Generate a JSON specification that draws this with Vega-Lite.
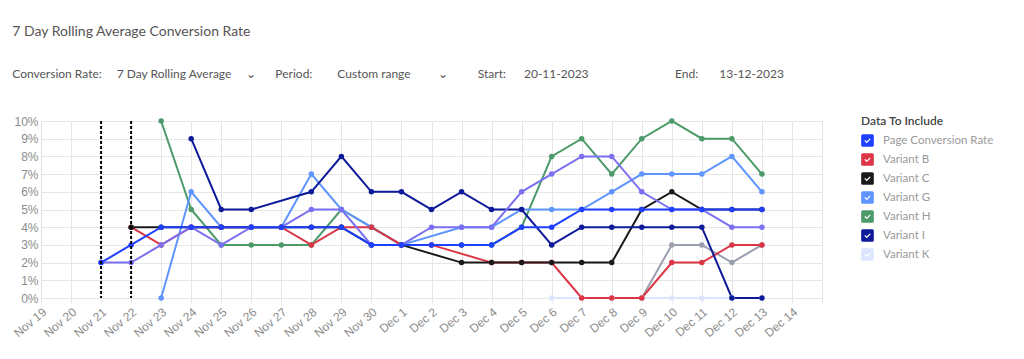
{
  "$schema": "https://vega.github.io/schema/vega-lite/v6.json",
  "width": 781,
  "height": 177,
  "autosize": "none",
  "padding": {"left": 41, "top": 121, "right": 202, "bottom": 61},
  "background": "white",
  "title": {
    "text": "7 Day Rolling Average Conversion Rate",
    "subtitle": "Conversion Rate:\u2003\u20027 Day Rolling Average\u2003\u2002\u2304\u2003\u2002\u2004Period:\u2003\u2003\u2004\u2005Custom range\u2003\u2003\u2002\u00a0\u2304\u2003\u2003\u2002\u00a0\u00a0Start:\u2003\u200320-11-2023\u2003\u2003\u2003\u2003\u2003\u2003\u2003\u2003\u2002\u2009\u2004\u2005End:\u2003\u2002\u200213-12-2023",
    "anchor": "start",
    "dx": 1,
    "offset": 35,
    "font": "Lato",
    "fontSize": 14,
    "fontWeight": "normal",
    "color": "#555555",
    "subtitleFont": "Lato",
    "subtitleFontSize": 12,
    "subtitleColor": "#555555",
    "subtitlePadding": 30
  },
  "datasets": {
    "rates": [
      {"series": "Variant L", "date": "2023-12-09", "rate": 0},
      {"series": "Variant L", "date": "2023-12-10", "rate": 3},
      {"series": "Variant L", "date": "2023-12-11", "rate": 3},
      {"series": "Variant L", "date": "2023-12-12", "rate": 2},
      {"series": "Variant L", "date": "2023-12-13", "rate": 3},
      {"series": "Variant K", "date": "2023-12-06", "rate": 0},
      {"series": "Variant K", "date": "2023-12-07", "rate": 0},
      {"series": "Variant K", "date": "2023-12-08", "rate": 0},
      {"series": "Variant K", "date": "2023-12-09", "rate": 0},
      {"series": "Variant K", "date": "2023-12-10", "rate": 0},
      {"series": "Variant K", "date": "2023-12-11", "rate": 0},
      {"series": "Variant K", "date": "2023-12-12", "rate": 0},
      {"series": "Variant K", "date": "2023-12-13", "rate": 0},
      {"series": "Variant H", "date": "2023-11-23", "rate": 10},
      {"series": "Variant H", "date": "2023-11-24", "rate": 5},
      {"series": "Variant H", "date": "2023-11-25", "rate": 3},
      {"series": "Variant H", "date": "2023-11-26", "rate": 3},
      {"series": "Variant H", "date": "2023-11-27", "rate": 3},
      {"series": "Variant H", "date": "2023-11-28", "rate": 3},
      {"series": "Variant H", "date": "2023-11-29", "rate": 5},
      {"series": "Variant H", "date": "2023-11-30", "rate": 4},
      {"series": "Variant H", "date": "2023-12-01", "rate": 3},
      {"series": "Variant H", "date": "2023-12-02", "rate": 3},
      {"series": "Variant H", "date": "2023-12-03", "rate": 3},
      {"series": "Variant H", "date": "2023-12-04", "rate": 3},
      {"series": "Variant H", "date": "2023-12-05", "rate": 4},
      {"series": "Variant H", "date": "2023-12-06", "rate": 8},
      {"series": "Variant H", "date": "2023-12-07", "rate": 9},
      {"series": "Variant H", "date": "2023-12-08", "rate": 7},
      {"series": "Variant H", "date": "2023-12-09", "rate": 9},
      {"series": "Variant H", "date": "2023-12-10", "rate": 10},
      {"series": "Variant H", "date": "2023-12-11", "rate": 9},
      {"series": "Variant H", "date": "2023-12-12", "rate": 9},
      {"series": "Variant H", "date": "2023-12-13", "rate": 7},
      {"series": "Variant G", "date": "2023-11-23", "rate": 0},
      {"series": "Variant G", "date": "2023-11-24", "rate": 6},
      {"series": "Variant G", "date": "2023-11-25", "rate": 4},
      {"series": "Variant G", "date": "2023-11-26", "rate": 4},
      {"series": "Variant G", "date": "2023-11-27", "rate": 4},
      {"series": "Variant G", "date": "2023-11-28", "rate": 7},
      {"series": "Variant G", "date": "2023-11-29", "rate": 5},
      {"series": "Variant G", "date": "2023-11-30", "rate": 4},
      {"series": "Variant G", "date": "2023-12-01", "rate": 3},
      {"series": "Variant G", "date": "2023-12-03", "rate": 4},
      {"series": "Variant G", "date": "2023-12-04", "rate": 4},
      {"series": "Variant G", "date": "2023-12-05", "rate": 5},
      {"series": "Variant G", "date": "2023-12-06", "rate": 5},
      {"series": "Variant G", "date": "2023-12-07", "rate": 5},
      {"series": "Variant G", "date": "2023-12-08", "rate": 6},
      {"series": "Variant G", "date": "2023-12-09", "rate": 7},
      {"series": "Variant G", "date": "2023-12-10", "rate": 7},
      {"series": "Variant G", "date": "2023-12-11", "rate": 7},
      {"series": "Variant G", "date": "2023-12-12", "rate": 8},
      {"series": "Variant G", "date": "2023-12-13", "rate": 6},
      {"series": "Variant B", "date": "2023-11-22", "rate": 4},
      {"series": "Variant B", "date": "2023-11-23", "rate": 3},
      {"series": "Variant B", "date": "2023-11-24", "rate": 4},
      {"series": "Variant B", "date": "2023-11-25", "rate": 4},
      {"series": "Variant B", "date": "2023-11-26", "rate": 4},
      {"series": "Variant B", "date": "2023-11-27", "rate": 4},
      {"series": "Variant B", "date": "2023-11-28", "rate": 3},
      {"series": "Variant B", "date": "2023-11-29", "rate": 4},
      {"series": "Variant B", "date": "2023-11-30", "rate": 4},
      {"series": "Variant B", "date": "2023-12-01", "rate": 3},
      {"series": "Variant B", "date": "2023-12-02", "rate": 3},
      {"series": "Variant B", "date": "2023-12-04", "rate": 2},
      {"series": "Variant B", "date": "2023-12-05", "rate": 2},
      {"series": "Variant B", "date": "2023-12-06", "rate": 2},
      {"series": "Variant B", "date": "2023-12-07", "rate": 0},
      {"series": "Variant B", "date": "2023-12-08", "rate": 0},
      {"series": "Variant B", "date": "2023-12-09", "rate": 0},
      {"series": "Variant B", "date": "2023-12-10", "rate": 2},
      {"series": "Variant B", "date": "2023-12-11", "rate": 2},
      {"series": "Variant B", "date": "2023-12-12", "rate": 3},
      {"series": "Variant B", "date": "2023-12-13", "rate": 3},
      {"series": "Variant C", "date": "2023-11-22", "rate": 4},
      {"series": "Variant C", "date": "2023-11-23", "rate": 4},
      {"series": "Variant C", "date": "2023-11-24", "rate": 4},
      {"series": "Variant C", "date": "2023-11-25", "rate": 4},
      {"series": "Variant C", "date": "2023-11-26", "rate": 4},
      {"series": "Variant C", "date": "2023-11-27", "rate": 4},
      {"series": "Variant C", "date": "2023-11-28", "rate": 4},
      {"series": "Variant C", "date": "2023-11-29", "rate": 4},
      {"series": "Variant C", "date": "2023-11-30", "rate": 3},
      {"series": "Variant C", "date": "2023-12-01", "rate": 3},
      {"series": "Variant C", "date": "2023-12-03", "rate": 2},
      {"series": "Variant C", "date": "2023-12-04", "rate": 2},
      {"series": "Variant C", "date": "2023-12-05", "rate": 2},
      {"series": "Variant C", "date": "2023-12-06", "rate": 2},
      {"series": "Variant C", "date": "2023-12-07", "rate": 2},
      {"series": "Variant C", "date": "2023-12-08", "rate": 2},
      {"series": "Variant C", "date": "2023-12-09", "rate": 5},
      {"series": "Variant C", "date": "2023-12-10", "rate": 6},
      {"series": "Variant C", "date": "2023-12-11", "rate": 5},
      {"series": "Variant C", "date": "2023-12-12", "rate": 5},
      {"series": "Variant C", "date": "2023-12-13", "rate": 5},
      {"series": "Variant I", "date": "2023-11-24", "rate": 9},
      {"series": "Variant I", "date": "2023-11-25", "rate": 5},
      {"series": "Variant I", "date": "2023-11-26", "rate": 5},
      {"series": "Variant I", "date": "2023-11-28", "rate": 6},
      {"series": "Variant I", "date": "2023-11-29", "rate": 8},
      {"series": "Variant I", "date": "2023-11-30", "rate": 6},
      {"series": "Variant I", "date": "2023-12-01", "rate": 6},
      {"series": "Variant I", "date": "2023-12-02", "rate": 5},
      {"series": "Variant I", "date": "2023-12-03", "rate": 6},
      {"series": "Variant I", "date": "2023-12-04", "rate": 5},
      {"series": "Variant I", "date": "2023-12-05", "rate": 5},
      {"series": "Variant I", "date": "2023-12-06", "rate": 3},
      {"series": "Variant I", "date": "2023-12-07", "rate": 4},
      {"series": "Variant I", "date": "2023-12-08", "rate": 4},
      {"series": "Variant I", "date": "2023-12-09", "rate": 4},
      {"series": "Variant I", "date": "2023-12-10", "rate": 4},
      {"series": "Variant I", "date": "2023-12-11", "rate": 4},
      {"series": "Variant I", "date": "2023-12-12", "rate": 0},
      {"series": "Variant I", "date": "2023-12-13", "rate": 0},
      {"series": "Variant M", "date": "2023-11-21", "rate": 2},
      {"series": "Variant M", "date": "2023-11-22", "rate": 2},
      {"series": "Variant M", "date": "2023-11-23", "rate": 3},
      {"series": "Variant M", "date": "2023-11-24", "rate": 4},
      {"series": "Variant M", "date": "2023-11-25", "rate": 3},
      {"series": "Variant M", "date": "2023-11-26", "rate": 4},
      {"series": "Variant M", "date": "2023-11-27", "rate": 4},
      {"series": "Variant M", "date": "2023-11-28", "rate": 5},
      {"series": "Variant M", "date": "2023-11-29", "rate": 5},
      {"series": "Variant M", "date": "2023-11-30", "rate": 3},
      {"series": "Variant M", "date": "2023-12-01", "rate": 3},
      {"series": "Variant M", "date": "2023-12-02", "rate": 4},
      {"series": "Variant M", "date": "2023-12-03", "rate": 4},
      {"series": "Variant M", "date": "2023-12-04", "rate": 4},
      {"series": "Variant M", "date": "2023-12-05", "rate": 6},
      {"series": "Variant M", "date": "2023-12-06", "rate": 7},
      {"series": "Variant M", "date": "2023-12-07", "rate": 8},
      {"series": "Variant M", "date": "2023-12-08", "rate": 8},
      {"series": "Variant M", "date": "2023-12-09", "rate": 6},
      {"series": "Variant M", "date": "2023-12-10", "rate": 5},
      {"series": "Variant M", "date": "2023-12-11", "rate": 5},
      {"series": "Variant M", "date": "2023-12-12", "rate": 4},
      {"series": "Variant M", "date": "2023-12-13", "rate": 4},
      {"series": "Page Conversion Rate", "date": "2023-11-21", "rate": 2},
      {"series": "Page Conversion Rate", "date": "2023-11-22", "rate": 3},
      {"series": "Page Conversion Rate", "date": "2023-11-23", "rate": 4},
      {"series": "Page Conversion Rate", "date": "2023-11-24", "rate": 4},
      {"series": "Page Conversion Rate", "date": "2023-11-25", "rate": 4},
      {"series": "Page Conversion Rate", "date": "2023-11-26", "rate": 4},
      {"series": "Page Conversion Rate", "date": "2023-11-27", "rate": 4},
      {"series": "Page Conversion Rate", "date": "2023-11-28", "rate": 4},
      {"series": "Page Conversion Rate", "date": "2023-11-29", "rate": 4},
      {"series": "Page Conversion Rate", "date": "2023-11-30", "rate": 3},
      {"series": "Page Conversion Rate", "date": "2023-12-01", "rate": 3},
      {"series": "Page Conversion Rate", "date": "2023-12-02", "rate": 3},
      {"series": "Page Conversion Rate", "date": "2023-12-03", "rate": 3},
      {"series": "Page Conversion Rate", "date": "2023-12-04", "rate": 3},
      {"series": "Page Conversion Rate", "date": "2023-12-05", "rate": 4},
      {"series": "Page Conversion Rate", "date": "2023-12-06", "rate": 4},
      {"series": "Page Conversion Rate", "date": "2023-12-07", "rate": 5},
      {"series": "Page Conversion Rate", "date": "2023-12-08", "rate": 5},
      {"series": "Page Conversion Rate", "date": "2023-12-09", "rate": 5},
      {"series": "Page Conversion Rate", "date": "2023-12-10", "rate": 5},
      {"series": "Page Conversion Rate", "date": "2023-12-11", "rate": 5},
      {"series": "Page Conversion Rate", "date": "2023-12-12", "rate": 5},
      {"series": "Page Conversion Rate", "date": "2023-12-13", "rate": 5}
    ]
  },
  "layer": [
    {
      "data": {"name": "rates"},
      "mark": {"type": "line", "strokeWidth": 2},
      "encoding": {
        "y": {
          "field": "rate",
          "type": "quantitative",
          "scale": {"domain": [0, 10], "nice": false},
          "axis": {
            "title": null,
            "values": [0, 1, 2, 3, 4, 5, 6, 7, 8, 9, 10],
            "labelExpr": "datum.value + '%'",
            "labelFont": "Liberation Sans",
            "labelFontSize": 12,
            "labelColor": "#8c8c8c",
            "labelPadding": 3,
            "grid": true,
            "gridColor": "#e6e6e6",
            "domain": true,
            "domainColor": "#e0e0e0",
            "ticks": false
          }
        },
        "color": {
          "field": "series",
          "type": "nominal",
          "scale": {
            "domain": ["Page Conversion Rate", "Variant B", "Variant C", "Variant G", "Variant H", "Variant I", "Variant K", "Variant L", "Variant M"],
            "range": ["#1f3fff", "#dc3545", "#1a1a1a", "#5f95ff", "#4c9a6a", "#0d1a99", "#dce6ff", "#9a9fae", "#7b6ff2"]
          },
          "legend": {
            "title": "Data To Include",
            "values": ["Page Conversion Rate", "Variant B", "Variant C", "Variant G", "Variant H", "Variant I", "Variant K"],
            "orient": "none",
            "legendX": 820,
            "legendY": -5,
            "titleFont": "Lato",
            "titleFontSize": 12,
            "titleFontWeight": 600,
            "titleColor": "#444444",
            "titlePadding": 6,
            "labelFont": "Lato",
            "labelFontSize": 11.5,
            "labelColor": "#9a9a9a",
            "labelOffset": 9,
            "symbolType": "M-1,-0.75 Q-1,-1 -0.75,-1 L0.75,-1 Q1,-1 1,-0.75 L1,0.75 Q1,1 0.75,1 L-0.75,1 Q-1,1 -1,0.75 Z M-0.5,0.05 L-0.12,0.43 L0.5,-0.19 L0.36,-0.33 L-0.12,0.15 L-0.36,-0.09 Z",
            "symbolSize": 160,
            "symbolStrokeWidth": 0,
            "symbolOpacity": 1,
            "rowPadding": 6
          }
        }
      }
    },
    {
      "data": {"name": "rates"},
      "mark": {"type": "point", "filled": true, "size": 30, "opacity": 1},
      "encoding": {
        "y": {
          "field": "rate",
          "type": "quantitative",
          "scale": {"domain": [0, 10], "nice": false},
          "axis": {
            "title": null,
            "values": [0, 1, 2, 3, 4, 5, 6, 7, 8, 9, 10],
            "labelExpr": "datum.value + '%'",
            "labelFont": "Liberation Sans",
            "labelFontSize": 12,
            "labelColor": "#8c8c8c",
            "labelPadding": 3,
            "grid": true,
            "gridColor": "#e6e6e6",
            "domain": true,
            "domainColor": "#e0e0e0",
            "ticks": false
          }
        },
        "color": {"field": "series", "type": "nominal"}
      }
    },
    {
      "data": {"values": [{"date": "2023-11-21"}, {"date": "2023-11-22"}]},
      "mark": {"type": "rule", "color": "#000000", "strokeWidth": 2, "strokeDash": [3, 2]},
      "encoding": {}
    }
  ],
  "encoding": {
    "x": {
      "field": "date",
      "type": "temporal",
      "scale": {
        "type": "utc",
        "domain": [
          {"year": 2023, "month": 11, "date": 19, "utc": true},
          {"year": 2023, "month": 12, "date": 15, "utc": true}
        ]
      },
      "axis": {
        "title": null,
        "tickCount": {"interval": "day", "step": 1},
        "labelExpr": "datum.value >= utc(2023, 11, 15) ? '' : utcFormat(datum.value, '%b %-d')",
        "labelAngle": -40,
        "labelOverlap": false,
        "labelFont": "Liberation Sans",
        "labelFontSize": 12,
        "labelColor": "#8c8c8c",
        "labelPadding": 3,
        "grid": true,
        "gridColor": "#e6e6e6",
        "domain": false,
        "ticks": true,
        "tickSize": 5,
        "tickColor": "#e6e6e6"
      }
    }
  },
  "config": {
    "view": {"stroke": null}
  }
}
